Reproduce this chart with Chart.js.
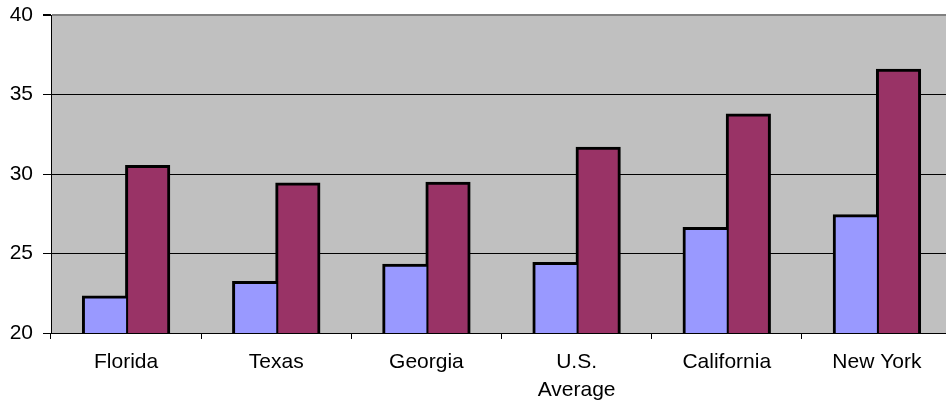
<!DOCTYPE html>
<html>
<head>
<meta charset="utf-8">
<script src="https://cdn.jsdelivr.net/npm/chart.js@4/dist/chart.umd.min.js"></script>
<style>
  html, body { margin: 0; padding: 0; background: #fff; overflow: hidden; }
  #wrap { width: 952px; height: 402px; position: relative; }
</style>
</head>
<body>
<div id="wrap"><canvas id="chart"></canvas></div>
<script>
// categories and series
const states = ['Florida', 'Texas', 'Georgia', ['U.S.', 'Average'], 'California', 'New York'];
const seriesA = [22.3, 23.2, 24.3, 24.4, 26.6, 27.4];
const seriesB = [30.5, 29.4, 29.45, 31.65, 33.75, 36.55];
const yTicks = [20, 25, 30, 35, 40];

// grey plot area behind the bars
const plotBg = {
  id: 'plotBg',
  beforeDraw(chart) {
    const a = chart.chartArea, ctx = chart.ctx;
    ctx.save();
    ctx.fillStyle = '#c0c0c0';
    ctx.fillRect(a.left, a.top, a.right - a.left, a.bottom - a.top);
    ctx.restore();
  }
};

const font = { family: 'Liberation Sans, Arial, sans-serif', size: 21, lineHeight: 1.3 };

new Chart(document.getElementById('chart'), {
  type: 'bar',
  data: {
    labels: states,
    datasets: [
      { label: 'A', data: seriesA, backgroundColor: '#9999ff', borderColor: '#000',
        borderWidth: { top: 3, left: 3, right: 0, bottom: 2 }, borderSkipped: false, inflateAmount: 1,
        categoryPercentage: 0.575, barPercentage: 1 },
      { label: 'B', data: seriesB, backgroundColor: '#993366', borderColor: '#000',
        borderWidth: { top: 3, left: 3, right: 3, bottom: 2 }, borderSkipped: false, inflateAmount: 1,
        categoryPercentage: 0.575, barPercentage: 1 }
    ]
  },
  options: {
    responsive: true, maintainAspectRatio: false, animation: false,
    layout: { padding: { top: 15, left: 0, right: 0, bottom: 0 } },
    plugins: { legend: { display: false }, tooltip: { enabled: false } },
    scales: {
      x: {
        grid: { drawOnChartArea: false, offset: true, tickLength: 6, color: '#000', tickColor: '#000' },
        border: { color: '#000', width: 1 },
        ticks: { font: font, color: '#000', padding: 10, maxRotation: 0, autoSkip: false },
        afterFit: s => { s.height = 69; s.paddingLeft = 0; s.paddingRight = 0; }
      },
      y: {
        min: 20, max: 40,
        afterBuildTicks: s => { s.ticks = yTicks.map(v => ({ value: v })); },
        grid: {
          color: c => c.tick.value === 40 ? '#808080' : '#000',
          lineWidth: c => c.tick.value === 40 ? 2 : 1,
          tickColor: '#000', tickLength: 8
        },
        border: { color: '#000', width: 1 },
        ticks: { font: font, color: '#000', padding: 10 },
        afterFit: s => { s.width = 51; s.paddingTop = 0; s.paddingBottom = 0; }
      }
    }
  },
  plugins: [plotBg]
});
</script>
</body>
</html>
